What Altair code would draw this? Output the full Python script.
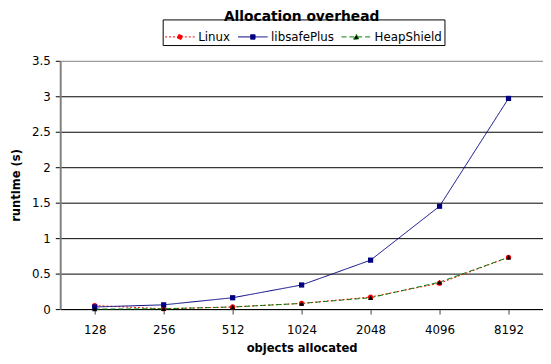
import altair as alt
import pandas as pd

categories = ["128", "256", "512", "1024", "2048", "4096", "8192"]
series_names = ["Linux", "libsafePlus", "HeapShield"]
linux = [0.05, 0.005, 0.03, 0.08, 0.17, 0.365, 0.73]
libsafe = [0.03, 0.06, 0.16, 0.34, 0.69, 1.45, 2.97]
heap = [0.0, 0.005, 0.03, 0.08, 0.16, 0.38, 0.73]
y_ticks = [0, 0.5, 1, 1.5, 2, 2.5, 3, 3.5]

line_colors = ["#FF0000", "#000080", "#008000"]
marker_colors = ["#FF0000", "#000080", "#000000"]
dashes = [[2, 2], [1, 0], [5, 3]]
shapes = ["circle", "square", "triangle-up"]
legend_shapes = [
    "M-1,0H1M-0.17,0A0.17,0.17 0 1,0 0.17,0A0.17,0.17 0 1,0 -0.17,0Z",
    "M-1,0H1M-0.15,-0.15H0.15V0.15H-0.15Z",
    "M-1,0H1M0,-0.17L0.18,0.15H-0.18Z",
]

rows = []
for name, vals in zip(series_names, [linux, libsafe, heap]):
    for c, v in zip(categories, vals):
        rows.append({"objects": c, "series": name, "value": v})
df = pd.DataFrame(rows)

FONT = "DejaVu Sans"

x_enc = alt.X(
    "objects:N",
    sort=categories,
    scale=alt.Scale(domain=categories, paddingInner=0, paddingOuter=0),
    axis=alt.Axis(
        title="objects allocated",
        labelAngle=0,
        bandPosition=0,
        labelPadding=11,
        tickSize=5,
        tickColor="#404040",
        domainColor="black",
        grid=False,
        labelFontSize=12,
        titleFontSize=11.7,
        titlePadding=7,
    ),
)
y_enc = alt.Y(
    "value:Q",
    scale=alt.Scale(domain=[0, 3.5], nice=False),
    axis=alt.Axis(
        title="runtime (s)",
        values=y_ticks,
        format="~g",
        tickSize=5,
        tickColor="black",
        domainColor="#808080",
        domainWidth=2,
        labelPadding=5,
        grid=True,
        gridColor=alt.condition("datum.value >= 3.5", alt.value("#808080"), alt.value("black")),
        gridOpacity=1,
        labelFontSize=12,
        titleFontSize=11.7,
        titlePadding=10,
    ),
)

lines = alt.Chart(df).mark_line(strokeWidth=1).encode(
    x=x_enc,
    y=y_enc,
    color=alt.Color("series:N", scale=alt.Scale(domain=series_names, range=line_colors), legend=None),
    strokeDash=alt.StrokeDash("series:N", scale=alt.Scale(domain=series_names, range=dashes), legend=None),
    order=alt.Order("objects_idx:Q"),
).transform_calculate(objects_idx="indexof(%s, datum.objects)" % str(categories))

points = alt.Chart(df).mark_point(filled=True, opacity=1, size=28).encode(
    x=x_enc,
    y=y_enc,
    shape=alt.Shape("series:N", scale=alt.Scale(domain=series_names, range=shapes), legend=None),
    fill=alt.Fill("series:N", scale=alt.Scale(domain=series_names, range=marker_colors), legend=None),
)


def make_legend():
    return alt.Legend(
        title=None,
        orient="none",
        legendX=104,
        legendY=-42,
        direction="horizontal",
        symbolSize=900,
        symbolStrokeWidth=1,
        labelFontSize=12,
        labelFont=FONT,
        labelOffset=3,
        columnPadding=5,
        padding=2,
        strokeColor="black",
        fillColor="white",
    )


legend_layer = alt.Chart(df).transform_filter("datum.value < -1").mark_point(
    filled=False, opacity=1, strokeWidth=1
).encode(
    x=x_enc,
    y=y_enc,
    shape=alt.Shape("series:N", scale=alt.Scale(domain=series_names, range=legend_shapes), legend=make_legend()),
    fill=alt.Fill("series:N", scale=alt.Scale(domain=series_names, range=marker_colors), legend=make_legend()),
    stroke=alt.Stroke("series:N", scale=alt.Scale(domain=series_names, range=line_colors), legend=make_legend()),
    strokeDash=alt.StrokeDash("series:N", scale=alt.Scale(domain=series_names, range=dashes), legend=make_legend()),
)

chart = (
    alt.layer(lines, points, legend_layer)
    .resolve_scale(shape="independent", fill="independent", strokeDash="independent", stroke="independent")
    .properties(
        width=490,
        height=252,
        padding={"left": 53, "top": 51, "right": 0, "bottom": 45},
        autosize=alt.AutoSizeParams(type="none"),
        title=alt.TitleParams(
            "Allocation overhead",
            fontSize=14,
            fontWeight="bold",
            font=FONT,
            anchor="middle",
            offset=-5,
        ),
    )
    .configure_view(stroke=None)
    .configure_axis(labelFont=FONT, titleFont=FONT, labelColor="black", titleColor="black")
)

chart.save("out.html", embed_options={"renderer": "svg", "actions": False})
